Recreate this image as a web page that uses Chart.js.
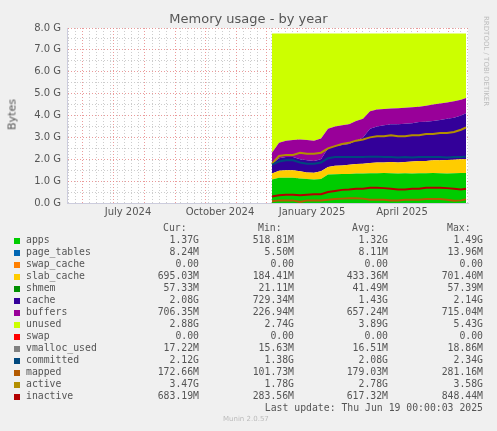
<!DOCTYPE html>
<html><head><meta charset="utf-8">
<script src="https://cdn.jsdelivr.net/npm/chart.js@4"></script>
<style>
body{margin:0;background:#f0f0f0;width:497px;height:431px;overflow:hidden;position:relative;font-family:"DejaVu Sans",sans-serif}
#wrap{position:absolute;left:0;top:0;width:497px;height:230px}
#title{position:absolute;left:0;width:497px;top:11px;text-align:center;font-size:13px;color:#555}
#ylab{position:absolute;left:-8px;top:108px;transform:rotate(-90deg);font-size:11px;color:#555;width:40px;text-align:center;font-weight:normal}
#rrd{position:absolute;left:482px;top:16px;writing-mode:vertical-rl;font-size:7px;color:#bbb}
#leg{position:absolute;left:0;top:0;width:497px;height:431px;font-family:"DejaVu Sans Mono",monospace;font-size:9.8px;color:#555}
.r{position:absolute;white-space:pre}
.sw{position:absolute;width:6px;height:6px}
</style></head><body>
<div id="wrap"><canvas id="c" width="497" height="230"></canvas></div>
<div id="title">Memory usage - by year</div>
<div id="ylab">Bytes</div>
<div id="rrd">RRDTOOL / TOBI OETIKER</div>
<div id="leg"></div>
<script>
// days since 2024-07-01
const days=[159,166,173,180,187,194,201,208,215,222,229,236,243,250,257,264,271,278,285,292,299,306,313,320,327,334,341,348,353];
// stack boundary tops (GB)
const appsTop=[1.08,1.15,1.15,1.15,1.12,1.1,1.08,1.1,1.3,1.32,1.33,1.33,1.35,1.35,1.36,1.36,1.37,1.36,1.35,1.36,1.35,1.36,1.36,1.37,1.36,1.35,1.36,1.37,1.37];
const slabTop=[1.35,1.48,1.5,1.5,1.45,1.4,1.38,1.45,1.65,1.7,1.72,1.75,1.78,1.8,1.83,1.85,1.85,1.87,1.85,1.88,1.9,1.92,1.92,1.95,1.95,1.97,1.98,2.0,2.0];
const cacheTop=[1.8,2.05,2.1,2.1,2.0,1.95,1.92,2.0,2.5,2.6,2.65,2.7,2.85,3.0,3.4,3.5,3.55,3.6,3.6,3.62,3.65,3.7,3.72,3.75,3.8,3.85,3.9,4.0,4.1];
const buffersTop=[2.3,2.75,2.85,2.88,2.9,2.88,2.85,2.95,3.4,3.5,3.55,3.6,3.75,3.85,4.2,4.28,4.3,4.32,4.33,4.35,4.38,4.4,4.45,4.5,4.55,4.6,4.65,4.72,4.8];
const unusedTop=[7.75,7.75,7.75,7.75,7.75,7.75,7.75,7.75,7.75,7.75,7.75,7.75,7.75,7.75,7.75,7.75,7.75,7.75,7.75,7.75,7.75,7.75,7.75,7.75,7.75,7.75,7.75,7.75,7.75];
const active=[1.8,2.15,2.2,2.2,2.3,2.25,2.25,2.3,2.5,2.6,2.7,2.75,2.85,2.9,3.0,3.05,3.05,3.1,3.05,3.05,3.1,3.1,3.15,3.15,3.2,3.2,3.25,3.35,3.45];
const committed=[1.75,1.9,1.95,1.95,1.85,1.8,1.8,1.85,2.05,2.1,2.1,2.1,2.1,2.1,2.12,2.12,2.1,2.1,2.08,2.1,2.08,2.1,2.1,2.1,2.1,2.08,2.1,2.1,2.12];
const inactive=[0.3,0.35,0.38,0.38,0.35,0.38,0.4,0.4,0.5,0.55,0.6,0.62,0.65,0.65,0.7,0.7,0.68,0.65,0.62,0.62,0.65,0.65,0.7,0.7,0.7,0.68,0.65,0.62,0.65];
const mapped=[0.08,0.12,0.12,0.12,0.05,0.12,0.12,0.12,0.15,0.18,0.2,0.22,0.22,0.2,0.15,0.15,0.15,0.12,0.12,0.15,0.15,0.15,0.18,0.18,0.18,0.15,0.1,0.12,0.17];
const monthStarts=[-31,0,31,62,92,123,153,184,215,243,274,304,335];
const monthLabelDays=[15,107,199,289];
const monthLabels=["July 2024","October 2024","January 2025","April 2025"];
const yTicks=[0,0.5,1,1.5,2,2.5,3,3.5,4,4.5,5,5.5,6,6.5,7,7.5,8];
const legendNames=["apps","page_tables","swap_cache","slab_cache","shmem","cache","buffers","unused","swap","vmalloc_used","committed","mapped","active","inactive"];
const legendColors=["#00cc00","#0066b3","#ff8000","#ffcc00","#008f00","#330099","#990099","#ccff00","#ff0000","#808080","#00487d","#b35a00","#b38f00","#b30000"];
const curV=["1.37G","8.24M","0.00","695.03M","57.33M","2.08G","706.35M","2.88G","0.00","17.22M","2.12G","172.66M","3.47G","683.19M"];
const minV=["518.81M","5.50M","0.00","184.41M","21.11M","729.34M","226.94M","2.74G","0.00","15.63M","1.38G","101.73M","1.78G","283.56M"];
const avgV=["1.32G","8.11M","0.00","433.36M","41.49M","1.43G","657.24M","3.89G","0.00","16.51M","2.08G","179.03M","2.78G","617.32M"];
const maxV=["1.49G","13.96M","0.00","701.40M","57.39M","2.14G","715.04M","5.43G","0.00","18.86M","2.34G","281.16M","3.58G","848.44M"];

const pts=a=>a.map((v,i)=>({x:days[i],y:v}));
const area=(d,c,f)=>({data:pts(d),backgroundColor:c,borderColor:c,borderWidth:0,pointRadius:0,fill:f,tension:0,order:5});
const line=(d,c)=>({data:pts(d),borderColor:c,borderWidth:2,pointRadius:0,fill:false,tension:0,order:0});
const weekly=[];for(let d=-45;d<=355;d+=7)weekly.push(d);

const bg={id:'bg',beforeDraw(ch){const a=ch.chartArea,x=ch.ctx;x.save();x.fillStyle='#fff';x.fillRect(a.left,a.top,a.right-a.left,a.bottom-a.top);x.restore();}};
new Chart(document.getElementById('c'),{type:'line',plugins:[bg],
data:{datasets:[area(appsTop,'#00cc00','origin'),area(slabTop,'#ffcc00','-1'),area(cacheTop,'#330099','-1'),area(buffersTop,'#990099','-1'),area(unusedTop,'#ccff00','-1'),
line(committed,'#00487d'),line(active,'#b38f00'),line(inactive,'#b30000'),line(mapped,'#b35a00')]},
options:{animation:false,responsive:false,layout:{padding:{top:28,right:29,left:0,bottom:0}},
plugins:{legend:{display:false},tooltip:{enabled:false}},
scales:{
x:{type:'linear',min:-46,max:355,
 afterBuildTicks:s=>{s.ticks=[...weekly.filter(d=>!monthStarts.some(m=>Math.abs(m-d)<3)).map(v=>({value:v})),...monthStarts.filter(v=>v>=-46).map(v=>({value:v}))];},
 ticks:{display:false},afterFit:s=>{s.height=0},
 grid:{color:c=>monthStarts.includes(c.tick&&c.tick.value)?'rgba(230,130,130,0.8)':'rgba(200,200,200,0.9)',drawTicks:false},
 border:{color:'#ccd',dash:[1,2],display:false}},
x2:{type:'linear',position:'bottom',min:-46,max:355,
 afterBuildTicks:s=>{s.ticks=monthLabelDays.map(v=>({value:v}));},
 ticks:{callback:v=>monthLabels[monthLabelDays.indexOf(v)]||'',color:'#555',font:{family:'DejaVu Sans',size:10},padding:3,maxRotation:0,autoSkip:false},
 grid:{display:false,drawTicks:false},border:{color:'#ccd',width:1},afterFit:s=>{s.height=27}},
y:{min:0,max:8,afterBuildTicks:s=>{s.ticks=yTicks.map(v=>({value:v}));},
 ticks:{callback:v=>Number.isInteger(v)?v.toFixed(1)+' G':'',color:'#555',font:{family:'DejaVu Sans',size:10},padding:6,autoSkip:false},
 grid:{color:c=>c.tick&&Number.isInteger(c.tick.value)?'rgba(230,130,130,0.8)':'rgba(200,200,200,0.9)',drawTicks:false},
 border:{color:'#ccd',dash:[1,2]},afterFit:s=>{s.width=67}}
}}});

const L=document.getElementById('leg');
let h='<div class="r" style="left:163px;top:222px">Cur:</div><div class="r" style="left:258px;top:222px">Min:</div><div class="r" style="left:352px;top:222px">Avg:</div><div class="r" style="left:447px;top:222px">Max:</div>';
const rr=(txt,right,top)=>`<div class="r" style="right:${497-right}px;top:${top}px">${txt}</div>`;
legendNames.forEach((n,i)=>{const t=234+i*12;
 h+=`<div class="sw" style="left:14px;top:${t+4}px;background:${legendColors[i]}"></div><div class="r" style="left:26px;top:${t}px">${n}</div>`;
 h+=rr(curV[i],199,t)+rr(minV[i],294,t)+rr(avgV[i],388,t)+rr(maxV[i],483,t);});
h+=rr('Last update: Thu Jun 19 00:00:03 2025',483,402);
h+='<div class="r" style="left:223px;top:415px;font-family:DejaVu Sans;font-size:7px;color:#bbb">Munin 2.0.57</div>';
L.innerHTML=h;
</script></body></html>
